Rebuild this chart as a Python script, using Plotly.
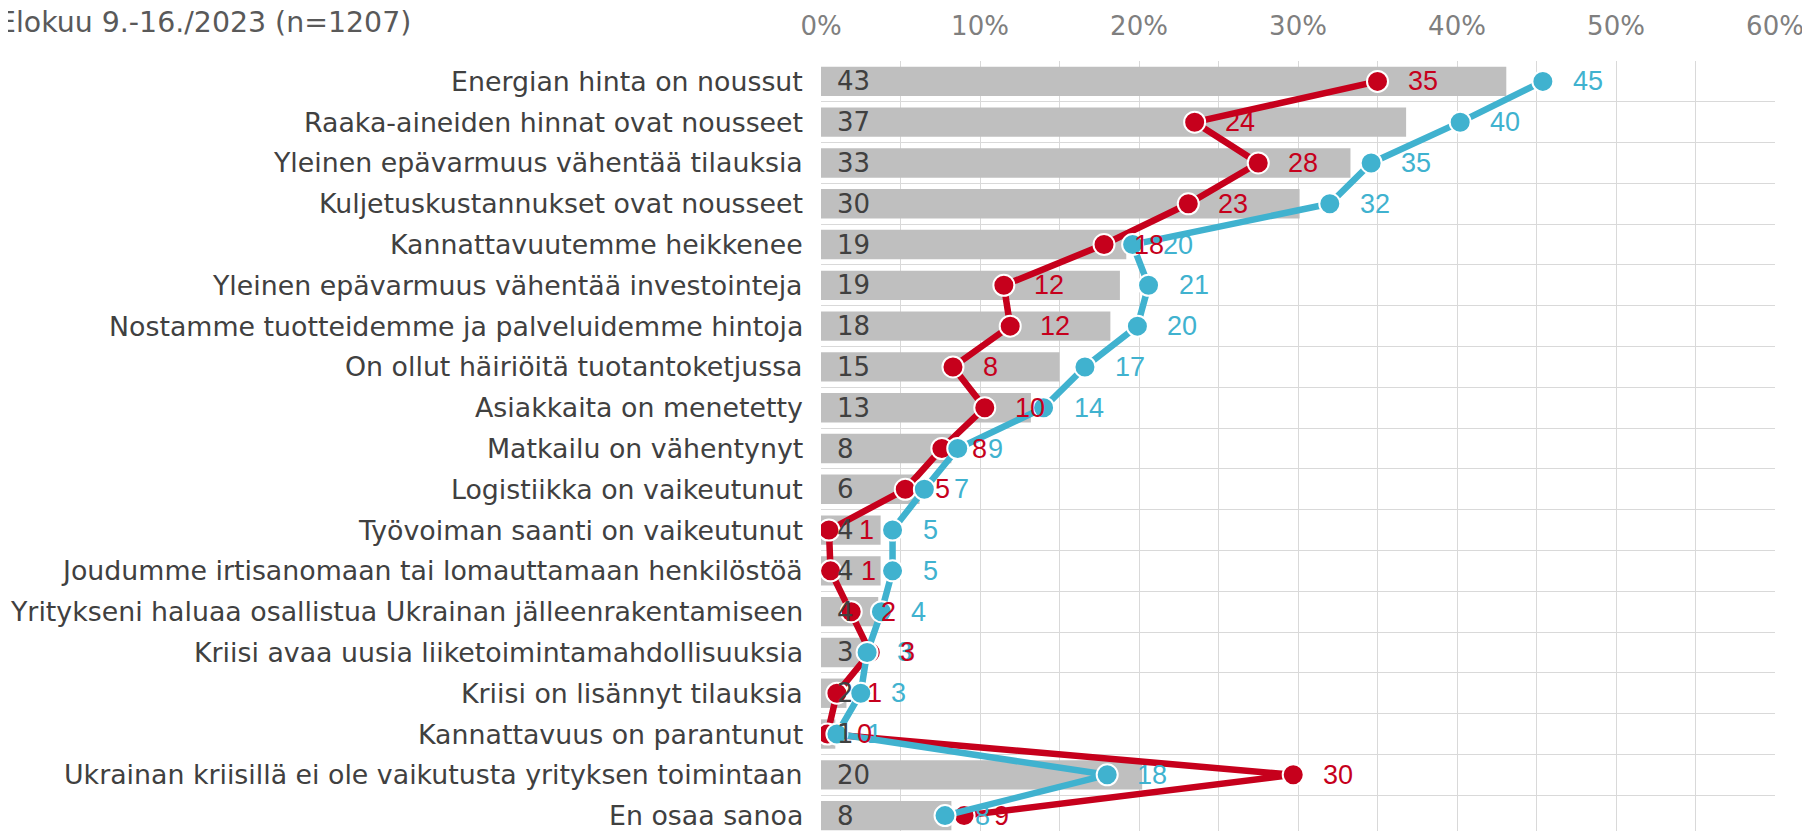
import plotly.graph_objects as go

categories = [
    "Energian hinta on noussut",
    "Raaka-aineiden hinnat ovat nousseet",
    "Yleinen epävarmuus vähentää tilauksia",
    "Kuljetuskustannukset ovat nousseet",
    "Kannattavuutemme heikkenee",
    "Yleinen epävarmuus vähentää investointeja",
    "Nostamme tuotteidemme ja palveluidemme hintoja",
    "On ollut häiriöitä tuotantoketjussa",
    "Asiakkaita on menetetty",
    "Matkailu on vähentynyt",
    "Logistiikka on vaikeutunut",
    "Työvoiman saanti on vaikeutunut",
    "Joudumme irtisanomaan tai lomauttamaan henkilöstöä",
    "Yritykseni haluaa osallistua Ukrainan jälleenrakentamiseen",
    "Kriisi avaa uusia liiketoimintamahdollisuuksia",
    "Kriisi on lisännyt tilauksia",
    "Kannattavuus on parantunut",
    "Ukrainan kriisillä ei ole vaikutusta yrityksen toimintaan",
    "En osaa sanoa",
]
bar_values = [43.1, 36.8, 33.3, 30.1, 19.2, 18.8, 18.2, 15.0, 13.2, 8.2, 6.2,
              3.75, 3.75, 3.6, 2.7, 1.6, 0.9, 20.2, 8.2]
red_values = [35.0, 23.5, 27.5, 23.1, 17.8, 11.5, 11.9, 8.3, 10.3, 7.6, 5.3,
              0.5, 0.6, 1.9, 3.1, 1.0, 0.4, 29.7, 9.0]
blue_values = [45.4, 40.2, 34.6, 32.0, 19.6, 20.6, 19.9, 16.6, 14.0, 8.6, 6.5,
               4.5, 4.5, 3.8, 2.9, 2.5, 1.0, 18.0, 7.8]
x_ticks = [0, 5, 10, 15, 20, 25, 30, 35, 40, 45, 50, 55, 60]
x_tick_labels = ["0%", "", "10%", "", "20%", "", "30%", "", "40%", "", "50%", "", "60%"]
title_text = "Elokuu 9.-16./2023 (n=1207)"

RED = "#C6001C"
BLUE = "#40B2CF"
GREY_BAR = "#BFBFBF"
GRID = "#D9D9D9"
W, H = 1810, 831
L, R, T, B = 813, 43, 53, 3


def lab(v):
    return str(int(v + 0.5))


fig = go.Figure()
fig.add_trace(go.Bar(
    x=bar_values, y=categories, orientation="h", width=0.72,
    marker=dict(color=GREY_BAR, line=dict(width=0)), hoverinfo="skip",
))
fig.add_trace(go.Scatter(
    x=red_values, y=categories, mode="lines+markers",
    line=dict(color=RED, width=6.5),
    marker=dict(size=21, color=RED, line=dict(color="white", width=2)),
    hoverinfo="skip",
))
fig.add_trace(go.Scatter(
    x=blue_values, y=categories, mode="lines+markers",
    line=dict(color=BLUE, width=6.5),
    marker=dict(size=21, color=BLUE, line=dict(color="white", width=2)),
    hoverinfo="skip",
))

annotations = []
for c in categories:
    annotations.append(dict(
        x=0, y=c, xref="paper", yref="y", text=c, showarrow=False,
        xanchor="right", yanchor="middle", xshift=-16,
        font=dict(family="DejaVu Sans", size=26.8, color="#404040"),
    ))
for c, v in zip(categories, bar_values):
    annotations.append(dict(
        x=0, y=c, xref="x", yref="y", text=lab(v), showarrow=False,
        xanchor="left", yanchor="middle", xshift=14,
        font=dict(family="DejaVu Sans", size=26, color="#404040"),
    ))
for c, v in zip(categories, blue_values):
    annotations.append(dict(
        x=v, y=c, xref="x", yref="y", text=lab(v), showarrow=False,
        xanchor="left", yanchor="middle", xshift=28,
        font=dict(family="Liberation Sans", size=27, color=BLUE),
    ))
for c, v in zip(categories, red_values):
    annotations.append(dict(
        x=v, y=c, xref="x", yref="y", text=lab(v), showarrow=False,
        xanchor="left", yanchor="middle", xshift=28,
        font=dict(family="Liberation Sans", size=27, color=RED),
    ))

plot_w = W - L - R
plot_h = H - T - B
annotations.append(dict(
    x=(-12 - L) / plot_w, y=(H - B - 15) / plot_h, xref="paper", yref="paper",
    text=title_text, showarrow=False, xanchor="left", yanchor="middle",
    font=dict(family="DejaVu Sans", size=28.4, color="#595959"),
))

fig.update_layout(
    width=W, height=H,
    margin=dict(l=L, r=R, t=T, b=B, pad=0, autoexpand=False),
    paper_bgcolor="white", plot_bgcolor="white",
    showlegend=False, barmode="overlay",
    annotations=annotations,
    xaxis=dict(
        range=[0, 60], side="top", tickvals=x_ticks, ticktext=x_tick_labels,
        showgrid=True, gridcolor=GRID, gridwidth=1, zeroline=False,
        ticks="outside", ticklen=15, tickcolor="rgba(0,0,0,0)",
        tickfont=dict(family="DejaVu Sans", size=26, color="#7F7F7F"),
        showline=False, fixedrange=True, automargin=False,
    ),
    yaxis=dict(
        type="category", categoryorder="array", categoryarray=categories,
        range=[18.5, -0.5], tickson="boundaries",
        showgrid=True, gridcolor=GRID, gridwidth=1, zeroline=False,
        showticklabels=False, ticks="",
        showline=False, fixedrange=True, automargin=False,
    ),
)

fig.write_html("out.html")
